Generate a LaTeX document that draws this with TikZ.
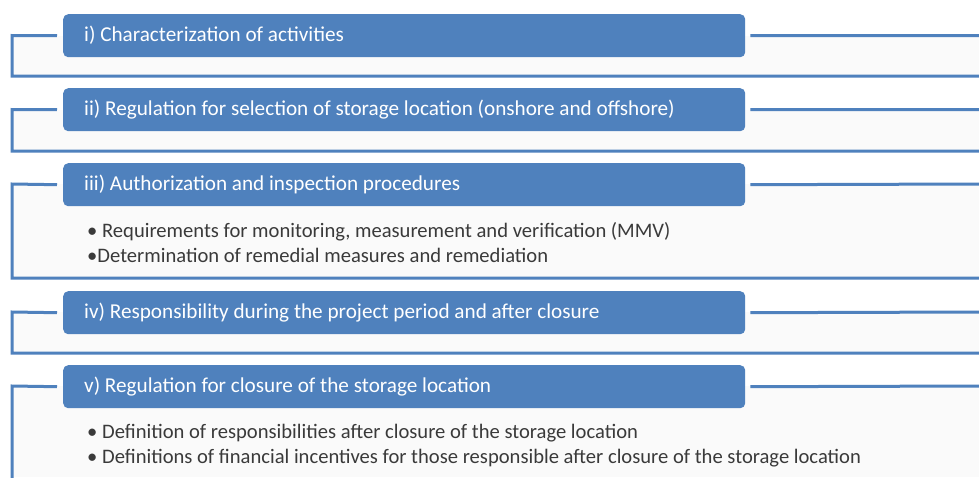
\documentclass[tikz,border=0pt]{standalone}
\usepackage{fontspec}
\setmainfont{Carlito}
\definecolor{hdr}{HTML}{4F81BD}
\definecolor{txt}{HTML}{3A3A3A}
\definecolor{pane}{HTML}{FAFAFA}
\begin{document}
\begin{tikzpicture}[x=1pt,y=-1pt,
  hbox/.style={fill=hdr, rounded corners=5pt, anchor=north west, inner sep=0pt,
    minimum width=682pt, minimum height=43pt},
  htext/.style={anchor=west, text=white, font=\fontsize{21.2}{25}\selectfont, inner sep=0pt},
  bline/.style={anchor=base west, text=txt, font=\fontsize{20.6}{24}\selectfont, inner sep=0pt},
  brk/.style={draw=hdr, line width=3pt}]
\useasboundingbox (0,0) rectangle (979,477);
\fill[white] (0,0) rectangle (979,477);
% panes
\fill[pane] (12,35.5) rectangle (979,76);
\fill[pane] (12,109.5) rectangle (979,151);
\fill[pane] (12,184) rectangle (979,278);
\fill[pane] (12,312) rectangle (979,353);
\fill[pane] (12,386) rectangle (979,477);
% headers
\node[hbox] (h1) at (63,14) {};
\node[hbox] (h2) at (63,88) {};
\node[hbox] (h3) at (63,163) {};
\node[hbox] (h4) at (63,291) {};
\node[hbox] (h5) at (63,365) {};
\node[htext] (t1) at ([xshift=21pt]h1.west) {i) Characterization of activities};
\node[htext] (t2) at ([xshift=21pt]h2.west) {ii) Regulation for selection of storage location (onshore and offshore)};
\node[htext] (t3) at ([xshift=21pt]h3.west) {iii) Authorization and inspection procedures};
\node[htext] (t4) at ([xshift=21pt]h4.west) {iv) Responsibility during the project period and after closure};
\node[htext] (t5) at ([xshift=21pt]h5.west) {v) Regulation for closure of the storage location};
% bullets
\node[bline] (b3a) at (87,237) {\textbullet\ Requirements for monitoring, measurement and verification (MMV)};
\node[bline] (b3b) at (87,262) {\textbullet Determination of remedial measures and remediation};
\node[bline] (b5a) at (87,438) {\textbullet\ Definition of responsibilities after closure of the storage location};
\node[bline] (b5b) at (87,463) {\textbullet\ Definitions of financial incentives for those responsible after closure of the storage location};
% edge coordinates
\coordinate (r1) at (979,35.5);
\coordinate (r2) at (979,109.5);
\coordinate (r3) at (979,184);
\coordinate (r4) at (979,312);
\coordinate (r5) at (979,386);
\coordinate (e1) at (979,76);
\coordinate (e2) at (979,151);
\coordinate (e3) at (979,278);
\coordinate (e4) at (979,353);
\coordinate (e5) at (12,480);
% brackets
\draw[brk] ([xshift=-6pt]h1.west) -- (12,35.5) -- (12,76) -- (e1);
\draw[brk] ([xshift=-6pt]h2.west) -- (12,109.5) -- (12,151) -- (e2);
\draw[brk] ([xshift=-6pt]h3.west) -- (12,184) -- (12,278) -- (e3);
\draw[brk] ([xshift=-6pt]h4.west) -- (12,312) -- (12,353) -- (e4);
\draw[brk] ([xshift=-6pt]h5.west) -- (12,386) -- (e5);
\draw[brk] ([xshift=5pt]h1.east) -- (r1);
\draw[brk] ([xshift=5pt]h2.east) -- (r2);
\draw[brk] ([xshift=5pt]h3.east) -- (r3);
\draw[brk] ([xshift=5pt]h4.east) -- (r4);
\draw[brk] ([xshift=5pt]h5.east) -- (r5);
\end{tikzpicture}
\end{document}
